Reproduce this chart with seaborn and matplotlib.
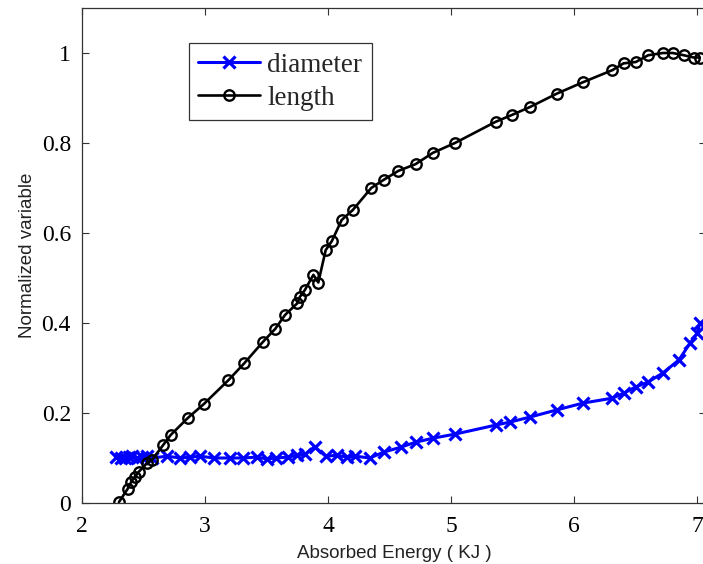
import matplotlib
matplotlib.use("Agg")
import matplotlib.pyplot as plt
import seaborn as sns
import pandas as pd

# length curve (normalized)
length_energy = [2.30, 2.37, 2.40, 2.43, 2.46, 2.53, 2.57, 2.66, 2.72, 2.86, 2.99,
                 3.19, 3.32, 3.47, 3.57, 3.65, 3.75, 3.77, 3.81, 3.88, 3.92, 3.98,
                 4.03, 4.11, 4.20, 4.35, 4.45, 4.57, 4.71, 4.85, 5.03, 5.36, 5.49,
                 5.64, 5.86, 6.07, 6.31, 6.40, 6.50, 6.60, 6.72, 6.80, 6.89, 6.97, 7.02]
length_value = [0.002, 0.031, 0.047, 0.058, 0.069, 0.089, 0.096, 0.129, 0.151, 0.189, 0.220,
                0.273, 0.311, 0.358, 0.387, 0.418, 0.444, 0.458, 0.473, 0.507, 0.490, 0.562,
                0.582, 0.629, 0.651, 0.700, 0.718, 0.738, 0.753, 0.778, 0.800, 0.847, 0.862,
                0.880, 0.910, 0.935, 0.962, 0.977, 0.980, 0.995, 1.000, 1.000, 0.995, 0.990, 0.990]

# diameter curve (normalized)
diam_energy = [2.28, 2.32, 2.35, 2.38, 2.41, 2.45, 2.49, 2.53, 2.57, 2.69, 2.80, 2.88,
               2.96, 3.07, 3.20, 3.31, 3.42, 3.50, 3.58, 3.67, 3.75, 3.81, 3.89, 3.98,
               4.07, 4.15, 4.22, 4.34, 4.45, 4.59, 4.71, 4.85, 5.03, 5.36, 5.48, 5.64,
               5.86, 6.07, 6.31, 6.40, 6.50, 6.60, 6.72, 6.85, 6.94, 7.00, 7.02]
diam_value = [0.102, 0.100, 0.100, 0.103, 0.104, 0.101, 0.102, 0.104, 0.100, 0.104, 0.100,
              0.102, 0.104, 0.100, 0.100, 0.100, 0.102, 0.098, 0.100, 0.102, 0.106, 0.108,
              0.125, 0.104, 0.106, 0.102, 0.104, 0.100, 0.113, 0.124, 0.135, 0.144, 0.153,
              0.173, 0.180, 0.191, 0.207, 0.222, 0.233, 0.244, 0.258, 0.269, 0.289, 0.318,
              0.355, 0.378, 0.400]

x_ticks = [2, 3, 4, 5, 6, 7]
y_ticks = [0, 0.2, 0.4, 0.6, 0.8, 1.0]
y_tick_labels = ["0", "0.2", "0.4", "0.6", "0.8", "1"]

df_len = pd.DataFrame({"energy": length_energy, "value": length_value})
df_dia = pd.DataFrame({"energy": diam_energy, "value": diam_value})

sns.set_style("ticks")
plt.rcParams["font.family"] = ["Liberation Serif", "DejaVu Serif"]

fig = plt.figure(figsize=(7.03, 5.64), dpi=100)
ax = fig.add_axes([82 / 703, 61 / 564, 624 / 703, 495 / 564])

sns.lineplot(data=df_dia, x="energy", y="value", ax=ax, color="#0000ff",
             marker="x", markersize=8, markeredgewidth=2.3, markeredgecolor="#0000ff",
             linewidth=2.2, estimator=None, sort=False, label="diameter")
sns.lineplot(data=df_len, x="energy", y="value", ax=ax, color="black",
             marker="o", markersize=7.5, markerfacecolor="none", markeredgecolor="black",
             markeredgewidth=1.7, linewidth=1.9, estimator=None, sort=False, label="length")

ax.set_xlim(2, 7.07)
ax.set_ylim(0, 1.1)
ax.set_xticks(x_ticks)
ax.set_yticks(y_ticks)
ax.set_yticklabels(y_tick_labels)
ax.tick_params(direction="in", top=True, right=True, length=5, width=0.8,
               labelsize=17, colors="#333333", labelcolor="black")
ax.tick_params(axis="x", pad=9)
ax.tick_params(axis="y", pad=8)
for s in ax.spines.values():
    s.set_visible(True)
    s.set_linewidth(0.9)
    s.set_color("#333333")

ax.set_xlabel("Absorbed Energy ( KJ )", family=["Liberation Sans", "DejaVu Sans"],
              fontsize=13.5, color="#222222", labelpad=6)
ax.set_ylabel("Normalized variable", family=["Liberation Sans", "DejaVu Sans"],
              fontsize=13.5, color="#222222", labelpad=4)

leg = ax.legend(loc="upper left", bbox_to_anchor=(0.171, 0.929), borderaxespad=0,
                fancybox=False, edgecolor="#333333", framealpha=1, fontsize=19.5,
                handlelength=2.3, handletextpad=0.25, borderpad=0.35, labelspacing=0.3)
leg.get_frame().set_linewidth(0.9)

fig.savefig("out.png", dpi=100)
